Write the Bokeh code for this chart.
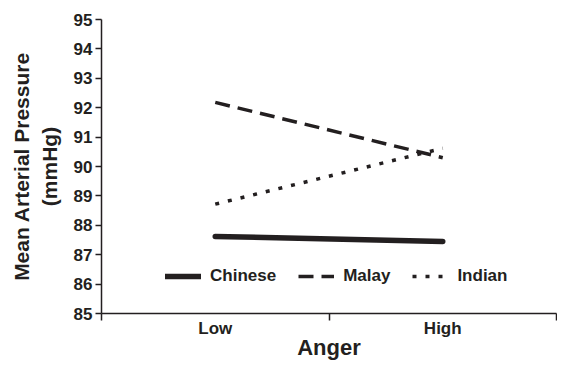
from bokeh.plotting import figure
from bokeh.models import Range1d, FixedTicker, Legend, LegendItem
from bokeh.embed import file_html
from bokeh.resources import INLINE

categories = ["Low", "High"]
chinese = [87.62, 87.45]
malay = [92.18, 90.30]
indian = [88.72, 90.62]
y_ticks = [85, 86, 87, 88, 89, 90, 91, 92, 93, 94, 95]

INK = "#231f20"
FONT = "Liberation Sans"

xs = [i + 0.5 for i in range(len(categories))]

p = figure(width=557, height=362, output_backend="svg", toolbar_location=None,
           x_range=Range1d(0, len(categories)), y_range=Range1d(85, 95),
           min_border_left=101, min_border_right=1, min_border_top=19, min_border_bottom=45)
p.outline_line_color = None
p.grid.visible = False

r1 = p.line(xs, chinese, line_color=INK, line_width=5.5, line_cap="round")
r2 = p.line(xs, malay, line_color=INK, line_width=3.5, line_dash="15 8")
r3 = p.line(xs, indian, line_color=INK, line_width=3.5, line_dash="4 9")

# x axis
xa = p.xaxis[0]
xa.ticker = FixedTicker(ticks=xs, minor_ticks=[float(i) for i in range(len(categories) + 1)])
xa.major_label_overrides = {x: c for x, c in zip(xs, categories)}
xa.major_tick_line_color = None
xa.major_tick_out = 0
xa.major_tick_in = 0
xa.minor_tick_out = 7
xa.minor_tick_in = 0
xa.minor_tick_line_color = INK
xa.minor_tick_line_width = 1.5
xa.axis_line_color = INK
xa.axis_line_width = 1.5
xa.major_label_text_font = FONT
xa.major_label_text_font_style = "bold"
xa.major_label_text_font_size = "17px"
xa.major_label_text_color = INK
xa.major_label_standoff = -2
xa.axis_label = "Anger"
xa.axis_label_text_font = FONT
xa.axis_label_text_font_style = "bold"
xa.axis_label_text_font_size = "22px"
xa.axis_label_text_color = INK
xa.axis_label_standoff = -6

# y axis
ya = p.yaxis[0]
ya.ticker = FixedTicker(ticks=y_ticks, minor_ticks=[])
ya.major_tick_out = 6
ya.major_tick_in = 0
ya.major_tick_line_color = INK
ya.major_tick_line_width = 1.5
ya.axis_line_color = INK
ya.axis_line_width = 1.5
ya.major_label_text_font = FONT
ya.major_label_text_font_style = "bold"
ya.major_label_text_font_size = "17px"
ya.major_label_text_color = INK
ya.major_label_standoff = 3
ya.axis_label = "Mean Arterial Pressure\n(mmHg)"
ya.axis_label_text_font = FONT
ya.axis_label_text_font_style = "bold"
ya.axis_label_text_font_size = "21px"
ya.axis_label_text_color = INK
ya.axis_label_standoff = 10

legend = Legend(items=[LegendItem(label="Chinese", renderers=[r1]),
                       LegendItem(label="Malay", renderers=[r2]),
                       LegendItem(label="Indian", renderers=[r3])],
                orientation="horizontal", location=(64, 27),
                border_line_color=None, background_fill_alpha=0,
                padding=0, margin=0, spacing=22, label_standoff=9,
                glyph_width=36, glyph_height=20, label_height=20,
                label_text_font=FONT, label_text_font_style="bold",
                label_text_font_size="17px", label_text_color=INK)
p.add_layout(legend, "center")

open("out.html", "w").write(file_html(p, INLINE))
